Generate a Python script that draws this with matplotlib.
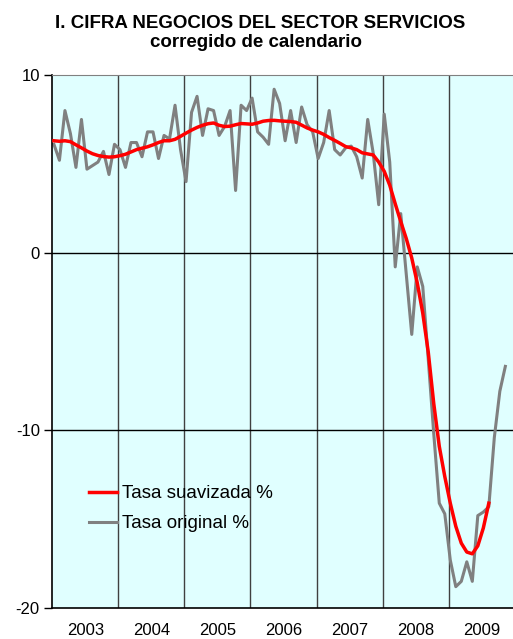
import numpy as np
import matplotlib.pyplot as plt

plt.rcParams['font.family'] = ['Liberation Sans', 'DejaVu Sans']

# monthly series, Jan 2003 onwards
original = [6.1, 5.2, 8.0, 6.7, 4.8, 7.5, 4.7, 4.9, 5.1, 5.7, 4.4, 6.1,
            5.8, 4.8, 6.2, 6.2, 5.4, 6.8, 6.8, 5.3, 6.6, 6.4, 8.3, 5.8,
            4.0, 7.9, 8.8, 6.6, 8.1, 8.0, 6.6, 7.1, 8.0, 3.5, 8.3, 8.0,
            8.7, 6.8, 6.5, 6.1, 9.2, 8.4, 6.3, 8.0, 6.2, 8.2, 7.2, 6.8,
            5.3, 6.2, 8.0, 5.8, 5.5, 5.9, 6.0, 5.4, 4.2, 7.5, 5.6, 2.7,
            7.8, 5.1, -0.8, 2.2, -1.2, -4.6, -0.8, -1.9, -6.0, -10.2, -14.1, -14.7,
            -17.3, -18.8, -18.5, -17.4, -18.5, -14.8, -14.6, -14.3, -10.4, -7.8, -6.4]

smoothed = [6.3, 6.27, 6.3, 6.25, 6.07, 5.9, 5.72, 5.57, 5.47, 5.41, 5.38, 5.4,
            5.46, 5.54, 5.67, 5.8, 5.88, 5.96, 6.07, 6.2, 6.3, 6.3, 6.38, 6.55,
            6.73, 6.9, 7.05, 7.17, 7.26, 7.3, 7.17, 7.1, 7.12, 7.2, 7.27, 7.25,
            7.23, 7.3, 7.4, 7.44, 7.45, 7.42, 7.4, 7.38, 7.34, 7.18, 7.02, 6.9,
            6.8, 6.66, 6.48, 6.32, 6.15, 5.97, 5.9, 5.8, 5.62, 5.56, 5.5, 5.1,
            4.58, 3.8, 2.75, 1.75, 0.8, -0.3, -1.7, -3.4, -5.6, -8.5, -10.9, -12.6,
            -14.1, -15.4, -16.35, -16.85, -16.95, -16.5, -15.5, -14.1]

years = [2003, 2004, 2005, 2006, 2007, 2008, 2009]
yticks = [10, 0, -10, -20]

t_orig = 2003 + (np.arange(len(original)) + 0.3) / 12
t_smooth = 2003 + (np.arange(len(smoothed)) + 0.3) / 12

fig = plt.figure(figsize=(5.13, 6.39), dpi=100)
ax = fig.add_axes([0.1019, 0.0485, 0.9014, 0.8341])
ax.set_facecolor('#E0FFFF')

for y in years[1:]:
    ax.axvline(y, color='#404040', lw=1.0, zorder=1)
for y in [0, -10]:
    ax.axhline(y, color='black', lw=1.0, zorder=1)

ax.plot(t_orig, original, color='#808080', lw=2.2, label='Tasa original %', zorder=2)
ax.plot(t_smooth, smoothed, color='#FF0000', lw=2.5, label='Tasa suavizada %', zorder=3)

ax.set_xlim(2003, 2010)
ax.set_ylim(-20, 10)
ax.set_yticks(yticks)
ax.set_yticklabels([str(v) for v in yticks], fontsize=12)
ax.set_xticks([y + 0.5 for y in years])
ax.set_xticklabels([str(y) for y in years], fontsize=12)
ax.tick_params(axis='x', length=0, pad=11)
ax.tick_params(axis='y', length=6, width=1, pad=3)

ax.spines['top'].set_color('#808080')
ax.spines['right'].set_visible(False)
for s in ['left', 'bottom']:
    ax.spines[s].set_linewidth(1.2)

h, l = ax.get_legend_handles_labels()
ax.legend(h[::-1], l[::-1], loc='upper left', bbox_to_anchor=(0.06, 0.248),
          frameon=False, fontsize=13.5, handlelength=1.45, handletextpad=0.27,
          labelspacing=0.68, borderpad=0)

fig.text(0.508, 0.964, 'I. CIFRA NEGOCIOS DEL SECTOR SERVICIOS', ha='center', va='center',
         fontsize=13.5, fontweight='bold')
fig.text(0.5, 0.934, 'corregido de calendario', ha='center', va='center',
         fontsize=13.5, fontweight='bold')

fig.savefig('out.png', dpi=100)
